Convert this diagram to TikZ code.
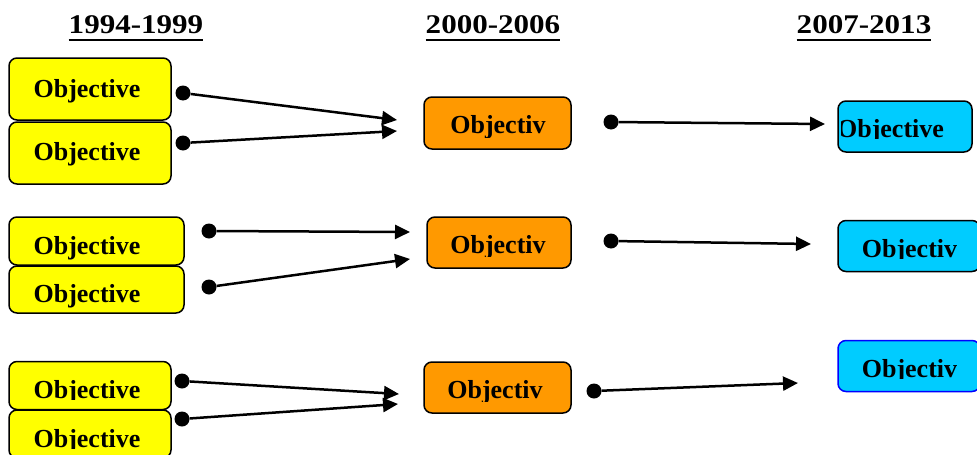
\documentclass[tikz,border=0pt]{standalone}
\usepackage{fontspec}
\setmainfont{Liberation Serif}
\newfontfamily\yearfont[FakeStretch=1.15]{Liberation Serif}
\usetikzlibrary{arrows.meta}
\definecolor{objyellow}{HTML}{FFFF00}
\definecolor{objorange}{HTML}{FF9900}
\definecolor{objcyan}{HTML}{00CCFF}
\definecolor{objblue}{HTML}{0000FF}
% box with its text cut off at the inner margin
\newcommand*\objbox[8]{%
  \node[#2,minimum width=#4,minimum height=#5] (#1) at #3 {};
  \begin{scope}
    \clip ([shift={#8}]#1.south west) rectangle (#1.north east);
    \node[objtext] at ([shift={#7}]#1.center) {#6};
  \end{scope}}

\begin{document}
\begin{tikzpicture}[x=1pt,y=-1pt,>={Triangle[length=15pt,width=14pt]},
    ybox/.style={draw,rounded corners=8,line width=1.5,fill=objyellow},
    obox/.style={draw,rounded corners=8,line width=1.5,fill=objorange},
    cbox/.style={draw,rounded corners=8,line width=1.5,fill=objcyan},
    cbbox/.style={cbox,draw=objblue},
    objtext/.style={anchor=base,inner sep=0,font=\bfseries\fontsize{26}{30}\selectfont},
    year/.style={anchor=base,inner sep=0,text depth=7pt,font=\yearfont\bfseries\fontsize{27}{30}\selectfont},
    blob/.style={circle,fill=black,inner sep=0,minimum size=15},
    link/.style={->,line width=2.5}]
\useasboundingbox (0,0) rectangle (977,455);

% periods
\node[year] (p94) at (136,33) {1994-1999};
\node[year] (p00) at (493,33) {2000-2006};
\node[year] (p07) at (864,33) {2007-2013};
\draw[line width=2.5] (p94.south west) -- (p94.south east);
\draw[line width=2.5] (p00.south west) -- (p00.south east);
\draw[line width=2.5] (p07.south west) -- (p07.south east);

% 1994-1999
\objbox{old1a}{ybox}{(90,89)}{162}{62}{Objective}{(-3,8)}{(0,-10)}
\objbox{old1b}{ybox}{(90,153)}{162}{62}{Objective}{(-3,7)}{(0,-10)}
\objbox{old2a}{ybox}{(96.5,241)}{175}{48}{Objective}{(-9.5,13)}{(0,-5)}
\objbox{old2b}{ybox}{(96.5,289.5)}{175}{47}{Objective}{(-9.5,13)}{(0,-5)}
\objbox{old3a}{ybox}{(90,385.5)}{162}{48}{Objective}{(-3,12.5)}{(0,-11)}
\objbox{old3b}{ybox}{(90,434)}{162}{48}{Objective}{(-3,13)}{(0,-10.5)}

% 2000-2006
\objbox{mid1}{obox}{(497.5,123)}{147}{52}{Objectiv}{(0.5,10)}{(0,-12)}
\objbox{mid2}{obox}{(499,242.5)}{144}{51}{Objectiv}{(-1,10.5)}{(0,-12)}
\objbox{mid3}{obox}{(497.5,387.5)}{147}{51}{Objectiv}{(-2.5,10.5)}{(0,-12)}

% 2007-2013
\objbox{new1}{cbox}{(905,126.5)}{134}{51}{Objective}{(-14.5,10.5)}{(4,-14)}
\objbox{new2}{cbox}{(909,246)}{142}{51}{Objectiv}{(0.5,11)}{(0,-14)}
\objbox{new3}{cbbox}{(909,366)}{142}{51}{Objectiv}{(0.5,11)}{(0,-14)}

% dots and arrow ends
\node[blob] (d1a) at (183,93) {};
\node[blob] (d1b) at (183,143) {};
\node[blob] (d1c) at (611,122) {};
\node[blob] (d2a) at (209,231) {};
\node[blob] (d2b) at (209,287) {};
\node[blob] (d2c) at (611,241) {};
\node[blob] (d3a) at (182,381) {};
\node[blob] (d3b) at (182,419) {};
\node[blob] (d3c) at (594,391) {};
\coordinate (e1a) at (397,120);
\coordinate (e1b) at (397,131);
\coordinate (e1c) at (825,124);
\coordinate (e2a) at (410,232);
\coordinate (e2b) at (410,259);
\coordinate (e2c) at (811,244);
\coordinate (e3a) at (399,394);
\coordinate (e3b) at (398,404);
\coordinate (e3c) at (798,383);

\draw[link] (d1a) -- (e1a);
\draw[link] (d1b) -- (e1b);
\draw[link] (d1c) -- (e1c);
\draw[link] (d2a) -- (e2a);
\draw[link] (d2b) -- (e2b);
\draw[link] (d2c) -- (e2c);
\draw[link] (d3a) -- (e3a);
\draw[link] (d3b) -- (e3b);
\draw[link] (d3c) -- (e3c);
\end{tikzpicture}
\end{document}
